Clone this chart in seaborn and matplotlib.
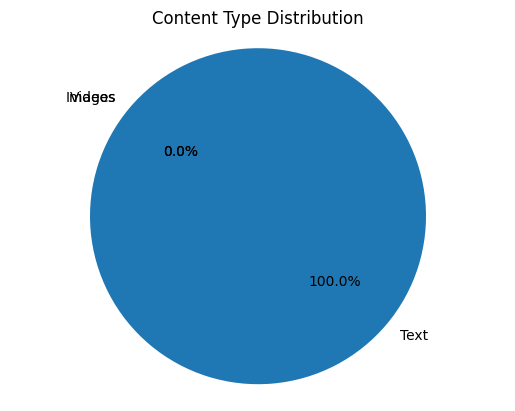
import matplotlib
matplotlib.use('Agg')
import matplotlib.pyplot as plt
import seaborn as sns

# content counts per type
content_types = ['Text', 'Images', 'Videos']
counts = [100, 0, 0]

colors = sns.color_palette('tab10', len(content_types))

fig, ax = plt.subplots(figsize=(6.4, 4.8), dpi=100)
ax.pie(counts, labels=content_types, colors=colors, autopct='%1.1f%%', startangle=140)
ax.axis('equal')
ax.set_title('Content Type Distribution')
plt.savefig('out.png', bbox_inches='tight')
